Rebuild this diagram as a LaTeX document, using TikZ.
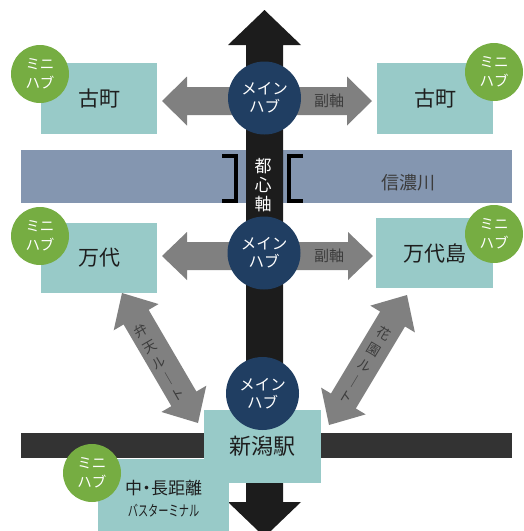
\documentclass[tikz,border=0pt]{standalone}
\usepackage{fontspec}
\usepackage{graphicx}
\setmainfont{Noto Sans CJK JP}
\usetikzlibrary{calc}
\definecolor{boxteal}{RGB}{152,202,200}
\definecolor{minigreen}{RGB}{118,173,66}
\definecolor{hubnavy}{RGB}{32,62,98}
\definecolor{arrgray}{RGB}{128,128,128}
\definecolor{river}{RGB}{132,150,176}
\definecolor{axisblack}{RGB}{28,28,28}
\definecolor{railgray}{RGB}{51,51,51}
\definecolor{txtdark}{RGB}{30,30,30}
\definecolor{txtgray}{RGB}{60,60,60}
\tikzset{
  area/.style={rectangle, fill=boxteal, inner sep=0pt, text=txtdark, font=\fontsize{21}{24}\selectfont},
  minihub/.style={circle, fill=minigreen, minimum size=58pt, inner sep=0pt, text=white, align=center, font=\fontsize{14.5}{19}\selectfont},
  mainhub/.style={circle, fill=hubnavy, minimum size=73pt, inner sep=0pt, text=white, align=center, font=\fontsize{15.5}{18}\selectfont},
  subaxis/.style={fill=arrgray},
  arrowlabel/.style={text=txtgray, inner sep=0pt, font=\fontsize{15}{18}\selectfont},
  routelabel/.style={text=txtgray, inner sep=0pt, align=center, font=\fontsize{13.5}{18.5}\selectfont},
  bracket/.style={draw=black, line width=4pt}
}
\newcommand{\DblArrow}[6]{%
  \coordinate (#2-#3-a) at ($(#2)!#4!(#3)$);
  \coordinate (#2-#3-b) at ($(#3)!#4!(#2)$);
  \path[#1] (#2)
   -- ($(#2-#3-a)!#5!90:(#3)$)
   -- ($(#2-#3-a)!#6!90:(#3)$)
   -- ($(#2-#3-b)!#6!-90:(#2)$)
   -- ($(#2-#3-b)!#5!-90:(#2)$)
   -- (#3)
   -- ($(#2-#3-b)!#5!90:(#2)$)
   -- ($(#2-#3-b)!#6!90:(#2)$)
   -- ($(#2-#3-a)!#6!-90:(#3)$)
   -- ($(#2-#3-a)!#5!-90:(#3)$)
   -- cycle;}
\begin{document}
\begin{tikzpicture}[x=1pt,y=-1pt]
\useasboundingbox (0,0) rectangle (524,531);
\clip (0,0) rectangle (524,531);
% river and rail
\fill[river] (21,150) rectangle (512,203);
\fill[railgray] (21,433) rectangle (512,458);
% main axis
\coordinate (axN) at (264.5,10);
\coordinate (axS) at (264.5,537);
\DblArrow{fill=axisblack}{axN}{axS}{35pt}{36.5pt}{18.5pt}
% sub axes
\coordinate (s1W) at (162,101);
\coordinate (s1E) at (372,101);
\coordinate (s2W) at (162,256);
\coordinate (s2E) at (373,256);
\DblArrow{subaxis}{s1W}{s1E}{25pt}{24.5pt}{14pt}
\DblArrow{subaxis}{s2W}{s2E}{25pt}{24pt}{14pt}
% routes
\coordinate (bN) at (122,293);
\coordinate (bS) at (198,423);
\coordinate (hN) at (407,295);
\coordinate (hS) at (329,425);
\DblArrow{subaxis}{bN}{bS}{28pt}{26pt}{14.5pt}
\DblArrow{subaxis}{hN}{hS}{28pt}{26pt}{14.5pt}
% brackets
\draw[bracket] (222,156) -- (236,156) -- (236,201) -- (222,201);
\draw[bracket] (303,156) -- (289,156) -- (289,201) -- (303,201);
% areas
\node[area, minimum width=116pt, minimum height=71pt] (furuL) at (99,98.5) {古町};
\node[area, minimum width=116pt, minimum height=71pt] (furuR) at (435,98.5) {古町};
\node[area, minimum width=116pt, minimum height=70pt] (bandai) at (99,258) {万代};
\node[area, minimum width=117pt, minimum height=70pt] (bandaijima) at (434.5,253) {万代島};
\node[area, minimum width=131pt, minimum height=80pt, anchor=north west] (bus) at (98,459) {};
\node[area, minimum width=117pt, minimum height=73pt, font=\fontsize{22}{24}\selectfont] (station) at (262.5,446.5) {新潟駅};
\node[text=txtdark, inner sep=0pt, align=center, font=\fontsize{17}{22}\selectfont] (bustext) at (163.5,499) {中\kern-4pt・\kern-4pt長距離\\\scalebox{0.68}[1]{\fontsize{15}{15}\selectfont バスターミナル}};
% hubs
\node[mainhub] (hub1) at (264.5,98) {メイン\\ハブ};
\node[mainhub] (hub2) at (264,253) {メイン\\ハブ};
\node[mainhub] (hub3) at (262.5,393.5) {メイン\\ハブ};
\node[minihub] (m1) at (40,74) {ミニ\\ハブ};
\node[minihub] (m2) at (494,72) {ミニ\\ハブ};
\node[minihub] (m3) at (40,236) {ミニ\\ハブ};
\node[minihub] (m4) at (494,234) {ミニ\\ハブ};
\node[minihub] (m5) at (92,473) {ミニ\\ハブ};
% labels
\node[arrowlabel] (fj1) at (329,101) {副軸};
\node[arrowlabel] (fj2) at (329,256) {副軸};
\node[text=txtgray, inner sep=0pt, font=\fontsize{18}{20}\selectfont] (shinano) at (408,183) {信濃川};
\node[text=white, inner sep=0pt, align=center, font=\fontsize{17}{19}\selectfont] (toshin) at (263,185) {都\\心\\軸};
\node[routelabel, rotate=30] (benten) at (159,362) {弁\\天\\ル\\｜\\ト};
\node[routelabel, rotate=-31] (hanazono) at (365,365) {花\\園\\ル\\｜\\ト};
\end{tikzpicture}
\end{document}
